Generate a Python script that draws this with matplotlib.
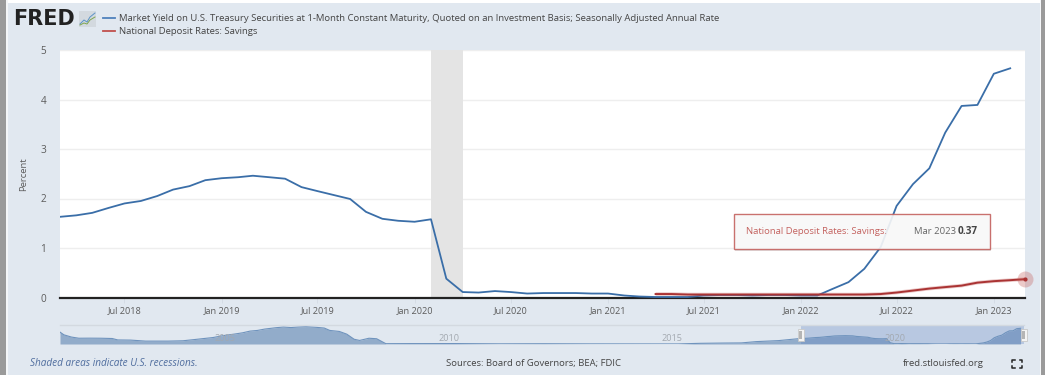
import matplotlib
matplotlib.use('Agg')
import matplotlib.pyplot as plt
import pandas as pd
from matplotlib.patches import Rectangle

plt.rcParams['font.family'] = ['Open Sans', 'DejaVu Sans']

# Monthly values, Mar 2018 to Feb 2023
treasury_1m = [1.63, 1.66, 1.71, 1.81, 1.90, 1.95, 2.05, 2.18, 2.25, 2.37, 2.41, 2.43,
               2.46, 2.43, 2.40, 2.23, 2.15, 2.07, 1.99, 1.73, 1.59, 1.55, 1.53, 1.58,
               0.38, 0.11, 0.10, 0.13, 0.11, 0.08, 0.09, 0.09, 0.09, 0.08, 0.08, 0.04,
               0.02, 0.01, 0.01, 0.01, 0.04, 0.05, 0.05, 0.04, 0.05, 0.05, 0.04, 0.04,
               0.17, 0.31, 0.58, 1.02, 1.85, 2.29, 2.61, 3.33, 3.87, 3.89, 4.52, 4.63]
treasury_dates = pd.date_range('2018-03-01', periods=len(treasury_1m), freq='MS')

# Monthly values, Apr 2021 to Mar 2023
savings = [0.07, 0.07, 0.06, 0.06, 0.06, 0.06, 0.06, 0.06, 0.06, 0.06, 0.06, 0.06,
           0.06, 0.06, 0.07, 0.10, 0.14, 0.18, 0.21, 0.24, 0.30, 0.33, 0.35, 0.37]
savings_dates = pd.date_range('2021-04-01', periods=len(savings), freq='MS')

recession = ['2020-02-01', '2020-04-01']

# Navigator history before the zoomed window
history_dates = ['2001-07-31', '2001-09-01', '2001-11-01', '2002-01-01', '2002-04-01', '2002-07-01',
                 '2002-10-01', '2002-11-15', '2003-03-01', '2003-07-01', '2004-01-01', '2004-05-01',
                 '2004-08-01', '2005-01-01', '2005-04-01', '2005-07-01', '2005-09-01', '2005-11-01',
                 '2006-01-01', '2006-03-01', '2006-06-01', '2006-08-01', '2006-10-01', '2006-12-01',
                 '2007-02-01', '2007-05-01', '2007-07-01', '2007-08-15', '2007-11-01', '2008-01-01',
                 '2008-03-01', '2008-04-15', '2008-07-01', '2008-09-01', '2008-11-15', '2009-06-01',
                 '2010-06-01', '2011-06-01', '2012-06-01', '2013-06-01', '2014-06-01', '2015-06-01',
                 '2015-12-01', '2016-06-01', '2016-11-01', '2017-03-01', '2017-09-01']
history_values = [3.50, 2.70, 2.05, 1.70, 1.72, 1.70, 1.62, 1.20, 1.15, 0.85, 0.85, 0.95,
                  1.30, 1.90, 2.50, 2.95, 3.30, 3.80, 4.00, 4.40, 4.80, 5.00, 4.85, 5.00,
                  5.10, 4.90, 4.70, 4.00, 3.70, 2.90, 1.40, 1.05, 1.70, 1.55, 0.10, 0.12,
                  0.13, 0.05, 0.08, 0.04, 0.03, 0.02, 0.20, 0.28, 0.32, 0.70, 1.00]

x_ticks = ['2018-07-01', '2019-01-01', '2019-07-01', '2020-01-01', '2020-07-01',
           '2021-01-01', '2021-07-01', '2022-01-01', '2022-07-01', '2023-01-01']
x_labels = ['Jul 2018', 'Jan 2019', 'Jul 2019', 'Jan 2020', 'Jul 2020',
            'Jan 2021', 'Jul 2021', 'Jan 2022', 'Jul 2022', 'Jan 2023']
y_ticks = [0, 1, 2, 3, 4, 5]
nav_ticks = ['2005-01-01', '2010-01-01', '2015-01-01', '2020-01-01']
nav_labels = ['2005', '2010', '2015', '2020']

BG = '#e1e8f0'
BLUE = '#3a6ea8'
RED = '#aa3333'
GREY_TEXT = '#5c5c5c'
W, H = 1045, 375


def px_axes(fig, left, top, right, bottom, **kw):
    # axes placed by pixel edges, measured from the top left corner
    return fig.add_axes([left / W, (H - bottom) / H, (right - left) / W, (bottom - top) / H], **kw)


fig = plt.figure(figsize=(W / 100, H / 100), dpi=100, facecolor=BG)

# page chrome, in pixel coordinates
chrome = px_axes(fig, 0, 0, W, H, zorder=0)
chrome.set_xlim(0, W)
chrome.set_ylim(H, 0)
chrome.axis('off')
chrome.add_patch(Rectangle((0, 0), W, 3, color='white', lw=0))
chrome.add_patch(Rectangle((0, 0), 6, H, color='#9a9a9a', lw=0))
chrome.add_patch(Rectangle((6, 0), 1.5, H, color='#f4f6f8', lw=0))
chrome.add_patch(Rectangle((1041, 0), 4, H, color='#9a9a9a', lw=0))
chrome.add_patch(Rectangle((1039.5, 0), 1.5, H, color='#f4f6f8', lw=0))

chrome.text(13.5, 19, 'FRED', fontsize=15, fontweight='bold', family='DejaVu Sans', color='#222222',
            va='center', ha='left')
chrome.add_patch(Rectangle((79, 11), 17, 16, color='#d3d9df', lw=0))
chrome.plot([80, 84, 87, 90, 95], [24, 20, 22, 17, 13], color='#5b93c7', lw=0.7)
chrome.plot([80, 84, 87, 90, 95], [25, 23, 24, 20, 17], color='#7fa650', lw=0.7)

chrome.plot([103, 115], [18, 18], color='#4f81bd', lw=1.3)
chrome.plot([103, 115], [31, 31], color='#c0504d', lw=1.3)
chrome.text(119, 18.5, 'Market Yield on U.S. Treasury Securities at 1-Month Constant Maturity, '
            'Quoted on an Investment Basis; Seasonally Adjusted Annual Rate',
            fontsize=6.8, color='#444444', va='center')
chrome.text(119, 31, 'National Deposit Rates: Savings', fontsize=6.8, color='#444444', va='center')

chrome.text(24, 174, 'Percent', fontsize=6.8, color=GREY_TEXT, rotation=90, va='center', ha='center')
chrome.text(30, 363.5, 'Shaded areas indicate U.S. recessions.', fontsize=7.2, style='italic',
            color='#4f6d9e', va='center')
chrome.text(446, 363.5, 'Sources: Board of Governors; BEA; FDIC', fontsize=6.8, color='#444444', va='center')
chrome.text(903, 363.5, 'fred.stlouisfed.org', fontsize=6.8, color='#444444', va='center')
for cx, cy, dx, dy in [(1012, 359.5, 1, 1), (1022, 359.5, -1, 1), (1012, 368, 1, -1), (1022, 368, -1, -1)]:
    chrome.plot([cx + 2.5 * dx, cx, cx], [cy, cy, cy + 2.5 * dy], color='#222222', lw=1.1)

# main chart
ax = px_axes(fig, 60, 50, 1025, 297.5, zorder=2)
ax.set_facecolor('white')
ax.axvspan(pd.Timestamp(recession[0]), pd.Timestamp(recession[1]), color='#e4e4e4', lw=0)
ax.plot(treasury_dates, treasury_1m, color=BLUE, lw=1.3, zorder=3)
ax.plot(savings_dates, savings, color='#c0504d', lw=2.6, alpha=0.3, zorder=4, solid_capstyle='butt')
ax.plot(savings_dates, savings, color=RED, lw=1.4, zorder=5)
ax.plot(savings_dates[-1:], savings[-1:], 'o', color='#c0504d', ms=11.5, alpha=0.3, mew=0, zorder=6, clip_on=False)
ax.plot(savings_dates[-1:], savings[-1:], 'o', color=RED, ms=3, mew=0, zorder=7, clip_on=False)
ax.set_xlim(pd.Timestamp('2018-03-01'), pd.Timestamp('2023-03-01'))
ax.set_ylim(0, 5)
ax.set_yticks(y_ticks)
ax.tick_params(axis='y', length=0, labelsize=7.2, labelcolor=GREY_TEXT, pad=10)
ax.set_xticks(pd.to_datetime(x_ticks))
ax.set_xticklabels(x_labels)
ax.tick_params(axis='x', length=3.5, width=0.7, color='#d5dce5', labelsize=6.6, labelcolor=GREY_TEXT, pad=3)
ax.grid(axis='y', color='#eeeeee', lw=1)
ax.set_axisbelow(True)
for side in ['top', 'left', 'right']:
    ax.spines[side].set_visible(False)
ax.spines['bottom'].set_color('#222222')
ax.spines['bottom'].set_linewidth(1.6)

# navigator
nav = px_axes(fig, 60, 325, 1024, 344, zorder=1)
nav.set_facecolor(BG)
nav_dates = list(pd.to_datetime(history_dates)) + list(treasury_dates)
nav_values = history_values + treasury_1m
nav.fill_between(nav_dates, nav_values, 0, color='#92acca', lw=0)
nav.plot(nav_dates, nav_values, color='#6f93bd', lw=0.8)
nav.axvspan(pd.Timestamp('2018-03-01'), pd.Timestamp('2023-03-01'), color='#5a7fc0', alpha=0.3, lw=0)
nav.set_xlim(pd.Timestamp('2001-07-31'), pd.Timestamp('2023-03-01'))
nav.set_ylim(0, 5.6)
nav.set_yticks([])
nav.set_xticks([])
for side in ['left', 'right', 'bottom']:
    nav.spines[side].set_visible(False)
nav.spines['top'].set_color('#d3d9e0')
nav.spines['top'].set_linewidth(1)
for tick, label in zip(nav_ticks, nav_labels):
    nav.annotate(label, (pd.Timestamp(tick), 0), xytext=(9, 4), textcoords='offset points',
                 fontsize=6.6, color='#a3a9b0', ha='center', va='center', zorder=6)

# hover tooltip and navigator handles sit above everything
top = px_axes(fig, 0, 0, W, H, zorder=5)
top.set_xlim(0, W)
top.set_ylim(H, 0)
top.axis('off')
top.patch.set_alpha(0)
top.add_patch(Rectangle((735, 216), 256, 35, color='#000000', alpha=0.12, lw=0))
top.add_patch(Rectangle((733.5, 214), 256, 34.5, facecolor='#fbfbfb', edgecolor='#c4625f', lw=1, alpha=0.9))
top.text(746, 231.5, 'National Deposit Rates: Savings:', fontsize=6.8, color='#c4625f', va='center')
top.text(914, 231.5, 'Mar 2023', fontsize=6.8, color='#666666', va='center')
top.text(958, 231.5, '0.37', fontsize=7.2, fontweight='bold', color='#444444', va='center')
for hx in [800.5, 1023.5]:
    top.add_patch(Rectangle((hx - 3, 328.5), 6, 12.5, facecolor='#f4f4f4', edgecolor='#c8c8c8', lw=0.6))
    top.add_patch(Rectangle((hx - 1.5, 331), 3, 7.5, facecolor='#b5b5b5', lw=0))

fig.savefig('out.png', dpi=100, facecolor=fig.get_facecolor())
